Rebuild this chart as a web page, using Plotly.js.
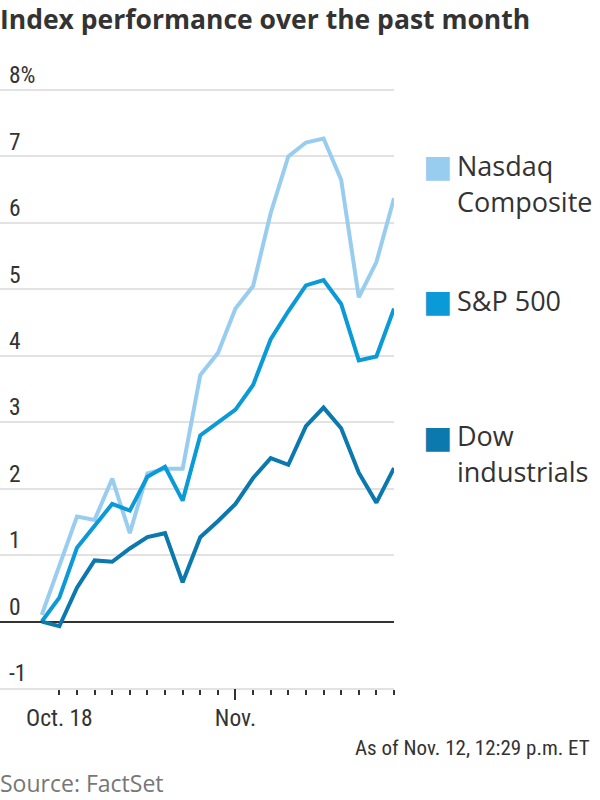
<!DOCTYPE html>
<html>
<head>
<meta charset="utf-8">
<script src="https://cdn.plot.ly/plotly-3.0.1.min.js"></script>
<style>
html,body{margin:0;padding:0;background:#fff;}
#chart{width:600px;height:800px;}
</style>
</head>
<body>
<div id="chart"></div>
<script>
// Trading days (Oct. 15 baseline through Nov. 12)
const dates = ["2021-10-15","2021-10-18","2021-10-19","2021-10-20","2021-10-21","2021-10-22",
  "2021-10-25","2021-10-26","2021-10-27","2021-10-28","2021-10-29",
  "2021-11-01","2021-11-02","2021-11-03","2021-11-04","2021-11-05",
  "2021-11-08","2021-11-09","2021-11-10","2021-11-11","2021-11-12"];

const nasdaq = [0.1, 0.85, 1.58, 1.53, 2.15, 1.33, 2.23, 2.30, 2.30, 3.71, 4.04,
  4.71, 5.05, 6.15, 7.0, 7.21, 7.27, 6.65, 4.88, 5.41, 6.37];
const sp500 = [0, 0.36, 1.11, 1.43, 1.77, 1.67, 2.18, 2.33, 1.82, 2.80, 2.99,
  3.19, 3.56, 4.25, 4.67, 5.06, 5.14, 4.78, 3.93, 3.99, 4.71];
const dow = [0, -0.07, 0.51, 0.92, 0.90, 1.10, 1.27, 1.33, 0.59, 1.27, 1.51,
  1.77, 2.16, 2.46, 2.36, 2.94, 3.22, 2.91, 2.24, 1.79, 2.31];

const seriesNames = ["Nasdaq<br>Composite", "S&P 500", "Dow<br>industrials"];
const seriesColors = ["#99cdef", "#0b9ad8", "#0b78ae"];

const yTickVals = [-1, 0, 1, 2, 3, 4, 5, 6, 7, 8];
const yTickText = ["-1", "0", "1", "2", "3", "4", "5", "6", "7", "8%"];

const xTickVals = dates.slice(1);
const xTickText = xTickVals.map(d => d === "2021-10-18" ? "Oct. 18" : (d === "2021-11-01" ? "Nov." : ""));
const xMajorVals = ["2021-11-01"];

const narrow = "'Liberation Sans Narrow', 'Roboto Condensed', 'Roboto', sans-serif";
const sans = "'Open Sans', 'Noto Sans', sans-serif";

// plot area in pixels: x 0..394, y 57..688 (value 8 sits at y=90)
const PW = 394, PT = 57, PB = 688;
const UNIT = (688 - 90) / 9;            // pixels per percentage point
const yTop = 8 + (90 - PT) / UNIT;
const px = p => p / PW;
const py = p => (PB - p) / (PB - PT);

const seriesData = [nasdaq, sp500, dow];
const traces = seriesData.map((vals, i) => ({
  type: "scatter", mode: "lines", x: dates, y: vals,
  line: {color: seriesColors[i], width: 4, shape: "linear"},
  hoverinfo: "skip", showlegend: false
}));
const xRange = [-2.37, 20];

const annotations = [];
const swatchY = [166.5, 301, 436.5];
const lineGap = 36;
seriesNames.forEach((name, i) => {
  annotations.push({
    xref: "paper", yref: "paper", x: px(421), y: py(swatchY[i]), xanchor: "left", yanchor: "middle",
    text: "■", showarrow: false, font: {family: "DejaVu Sans", size: 31, color: seriesColors[i]}
  });
  name.split("<br>").forEach((ln, j) => {
    annotations.push({
      xref: "paper", yref: "paper", x: px(455), y: py(swatchY[i] - 1 + j * lineGap), xanchor: "left", yanchor: "middle",
      align: "left", text: ln, showarrow: false,
      font: {family: sans, size: 27, color: "#333"}
    });
  });
});
annotations.push({
  xref: "paper", yref: "paper", x: px(592), y: py(748), xanchor: "right", yanchor: "middle",
  text: "As of Nov. 12, 12:29 p.m. ET", showarrow: false,
  font: {family: narrow, size: 21, color: "#333"}
});
annotations.push({
  xref: "paper", yref: "paper", x: px(-2), y: py(783), xanchor: "left", yanchor: "middle",
  text: "Source: FactSet", showarrow: false,
  font: {family: sans, size: 23, color: "#777"}
});

const layout = {
  width: 600, height: 800,
  margin: {l: 0, r: 600 - PW, t: PT, b: 800 - PB},
  paper_bgcolor: "#fff", plot_bgcolor: "#fff",
  title: {text: "<b>Index performance over the past month</b>", x: 0, xanchor: "left", xref: "paper",
    y: 0.975, yanchor: "middle", font: {family: sans, size: 26.5, color: "#333"}},
  xaxis: {
    type: "category", range: xRange, tickvals: xTickVals, ticktext: xTickText,
    ticks: "outside", ticklen: 5, tickwidth: 2, tickcolor: "#333",
    showgrid: false, showline: true, linecolor: "#e2e2e2", linewidth: 2,
    zeroline: false, fixedrange: true, ticklabelstandoff: 3,
    tickfont: {family: narrow, size: 23.5, color: "#333"}
  },
  xaxis2: {
    type: "category", overlaying: "x", anchor: "y", side: "bottom", range: xRange,
    matches: "x",
    tickvals: xMajorVals, ticktext: [""], ticks: "outside", ticklen: 11, tickwidth: 2, tickcolor: "#333",
    showgrid: false, showline: false, zeroline: false, showticklabels: false
  },
  yaxis: {
    range: [-1, yTop], tickvals: yTickVals, ticktext: yTickText,
    ticklabelposition: "inside", ticklabelshift: -15, ticklabelstandoff: 6, ticks: "",
    showgrid: true, gridcolor: "#e2e2e2", gridwidth: 2,
    zeroline: true, zerolinecolor: "#333", zerolinewidth: 2,
    showline: false, fixedrange: true,
    tickfont: {family: narrow, size: 23.5, color: "#333"}
  },
  annotations: annotations
};

traces.push({type: "scatter", mode: "lines", x: [dates[0]], y: [0], xaxis: "x2", yaxis: "y",
  hoverinfo: "skip", showlegend: false, line: {width: 0}});

Plotly.newPlot("chart", traces, layout, {staticPlot: true, displayModeBar: false});
</script>
</body>
</html>
